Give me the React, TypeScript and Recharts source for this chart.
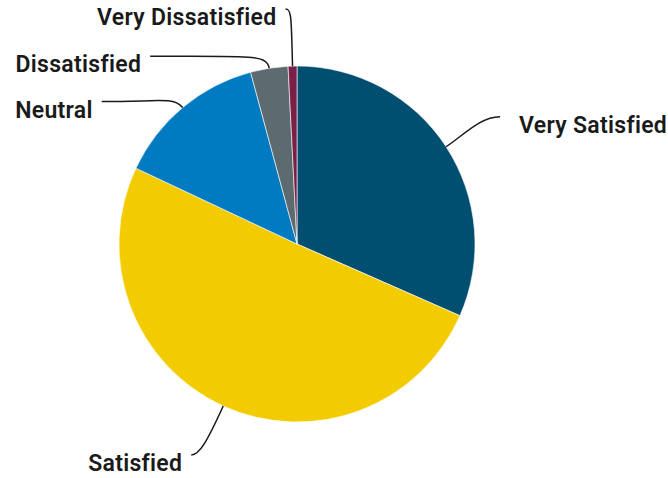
import { Cell, Pie, PieChart } from "recharts";

const categories = [
  "Very Satisfied",
  "Satisfied",
  "Neutral",
  "Dissatisfied",
  "Very Dissatisfied",
];
const shares = [31.6, 50.4, 13.8, 3.4, 0.8];

const sliceColors = ["#004F71", "#F2CC00", "#007AC0", "#5B6B70", "#7A1F47"];

// leader line shape per slice: end offset from slice edge, radial / horizontal control lengths
const labelLayout = [
  { ex: 54, ey: -30, a: 20, b: 20 },
  { ex: -32, ey: 49, a: 40, b: 8 },
  { ex: -81, ey: -6, a: 14, b: 60 },
  { ex: -119, ey: -12, a: 14, b: 100 },
  { ex: -7, ey: -57, a: 50, b: 6 },
];

const data = categories.map((name, i) => ({ name, value: shares[i] }));

const RAD = Math.PI / 180;

const renderLabel = (props: any) => {
  const { cx, cy, midAngle, outerRadius, index, name } = props;
  const lay = labelLayout[index];
  const dx = Math.cos(-midAngle * RAD);
  const dy = Math.sin(-midAngle * RAD);
  const sx = cx + outerRadius * dx;
  const sy = cy + outerRadius * dy;
  const ex = sx + lay.ex;
  const ey = sy + lay.ey;
  const right = lay.ex > 0;
  const c1x = sx + dx * lay.a;
  const c1y = sy + dy * lay.a;
  const c2x = ex + (right ? -lay.b : lay.b);
  const c2y = ey;
  return (
    <g>
      <path
        d={`M${sx},${sy} C${c1x},${c1y} ${c2x},${c2y} ${ex},${ey}`}
        stroke="#1a1a1a"
        strokeWidth={1.5}
        fill="none"
      />
      <text
        x={right ? ex + 19 : ex - 9}
        y={ey + 16}
        textAnchor={right ? "start" : "end"}
        fill="#1a1a1a"
        fontFamily="Roboto, sans-serif"
        fontWeight={600}
        fontSize={23}
        letterSpacing={0.3}
      >
        {name}
      </text>
    </g>
  );
};

const SatisfactionPie = () => {
  return (
    <div style={{ position: "absolute", left: 0, top: 0 }}>
      <PieChart width={668} height={478}>
        <Pie
          data={data}
          dataKey="value"
          nameKey="name"
          cx={292}
          cy={239}
          outerRadius={178}
          startAngle={90}
          endAngle={-270}
          stroke="#ffffff"
          strokeWidth={0.6}
          label={renderLabel}
          labelLine={false}
          isAnimationActive={false}
        >
          {data.map((d, i) => (
            <Cell key={d.name} fill={sliceColors[i]} />
          ))}
        </Pie>
      </PieChart>
    </div>
  );
};

export default SatisfactionPie;
